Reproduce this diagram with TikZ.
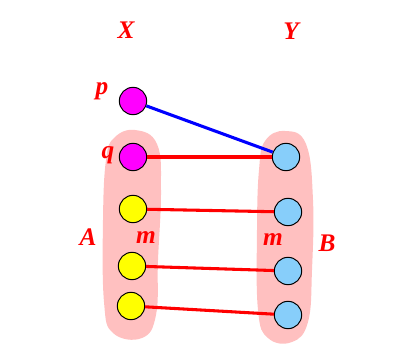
\documentclass[tikz,border=0pt]{standalone}
\usepackage{fontspec}
\setmainfont{Liberation Serif}
\definecolor{blobpink}{RGB}{255,192,192}
\definecolor{skyblue}{RGB}{135,206,250}
\definecolor{brightmagenta}{RGB}{255,0,255}
\definecolor{brightyellow}{RGB}{255,255,0}
\definecolor{pureblue}{RGB}{0,0,255}
\definecolor{purered}{RGB}{255,0,0}
\usetikzlibrary{positioning}

\begin{document}
\begin{tikzpicture}[
        x=0.75pt, y=-0.75pt,
        vertex/.style={circle, draw=black, line width=0.75pt, minimum size=20.5pt, inner sep=0pt},
        label/.style={text=purered, font=\fontsize{19}{19}\selectfont\bfseries\itshape},
        edge/.style={line width=2.3pt}
    ]
        \useasboundingbox (0,0) rectangle (401,352);

        % Pink sets
        \fill[blobpink] plot[smooth cycle, tension=0.7] coordinates {(135,130) (157,144) (161,190) (158,260) (156,315) (142,338) (113,333) (104,302) (103,220) (106,160) (114,138)};
        \fill[blobpink] plot[smooth cycle, tension=0.7] coordinates {(285,131) (306,144) (313,200) (312,270) (308,322) (292,342) (268,338) (258,310) (257,230) (259,170) (265,141)};

        % Domain X
        \node[vertex, fill=brightmagenta] (P) at (133,101) {};
        \node[vertex, fill=brightmagenta] (Q) at (133,157) {};
        \node[vertex, fill=brightyellow] (A1) at (133,209) {};
        \node[vertex, fill=brightyellow] (A2) at (132,266) {};
        \node[vertex, fill=brightyellow] (A3) at (131,306) {};

        % Codomain Y
        \node[vertex, fill=skyblue] (B1) at (286,157) {};
        \node[vertex, fill=skyblue] (B2) at (288,212) {};
        \node[vertex, fill=skyblue] (B3) at (288,271) {};
        \node[vertex, fill=skyblue] (B4) at (288,315) {};

        % Labels
        \node[label] (LX) at (126,30) {X};
        \node[label] (LY) at (291,31) {Y};
        \node[label] (LP) at (102,91) {p};
        \node[label] (LQ) at (108,155) {q};
        \node[label] (LA) at (88,237) {A};
        \node[label] (LMA) at (146,238) {m};
        \node[label] (LMB) at (273,240) {m};
        \node[label] (LB) at (327,243) {B};

        % Mapping
        \draw[edge, pureblue] (P) -- (B1);
        \draw[edge, purered] (Q) -- (B1);
        \draw[edge, purered] (A1) -- (B2);
        \draw[edge, purered] (A2) -- (B3);
        \draw[edge, purered] (A3) -- (B4);
    \end{tikzpicture}
\end{document}
